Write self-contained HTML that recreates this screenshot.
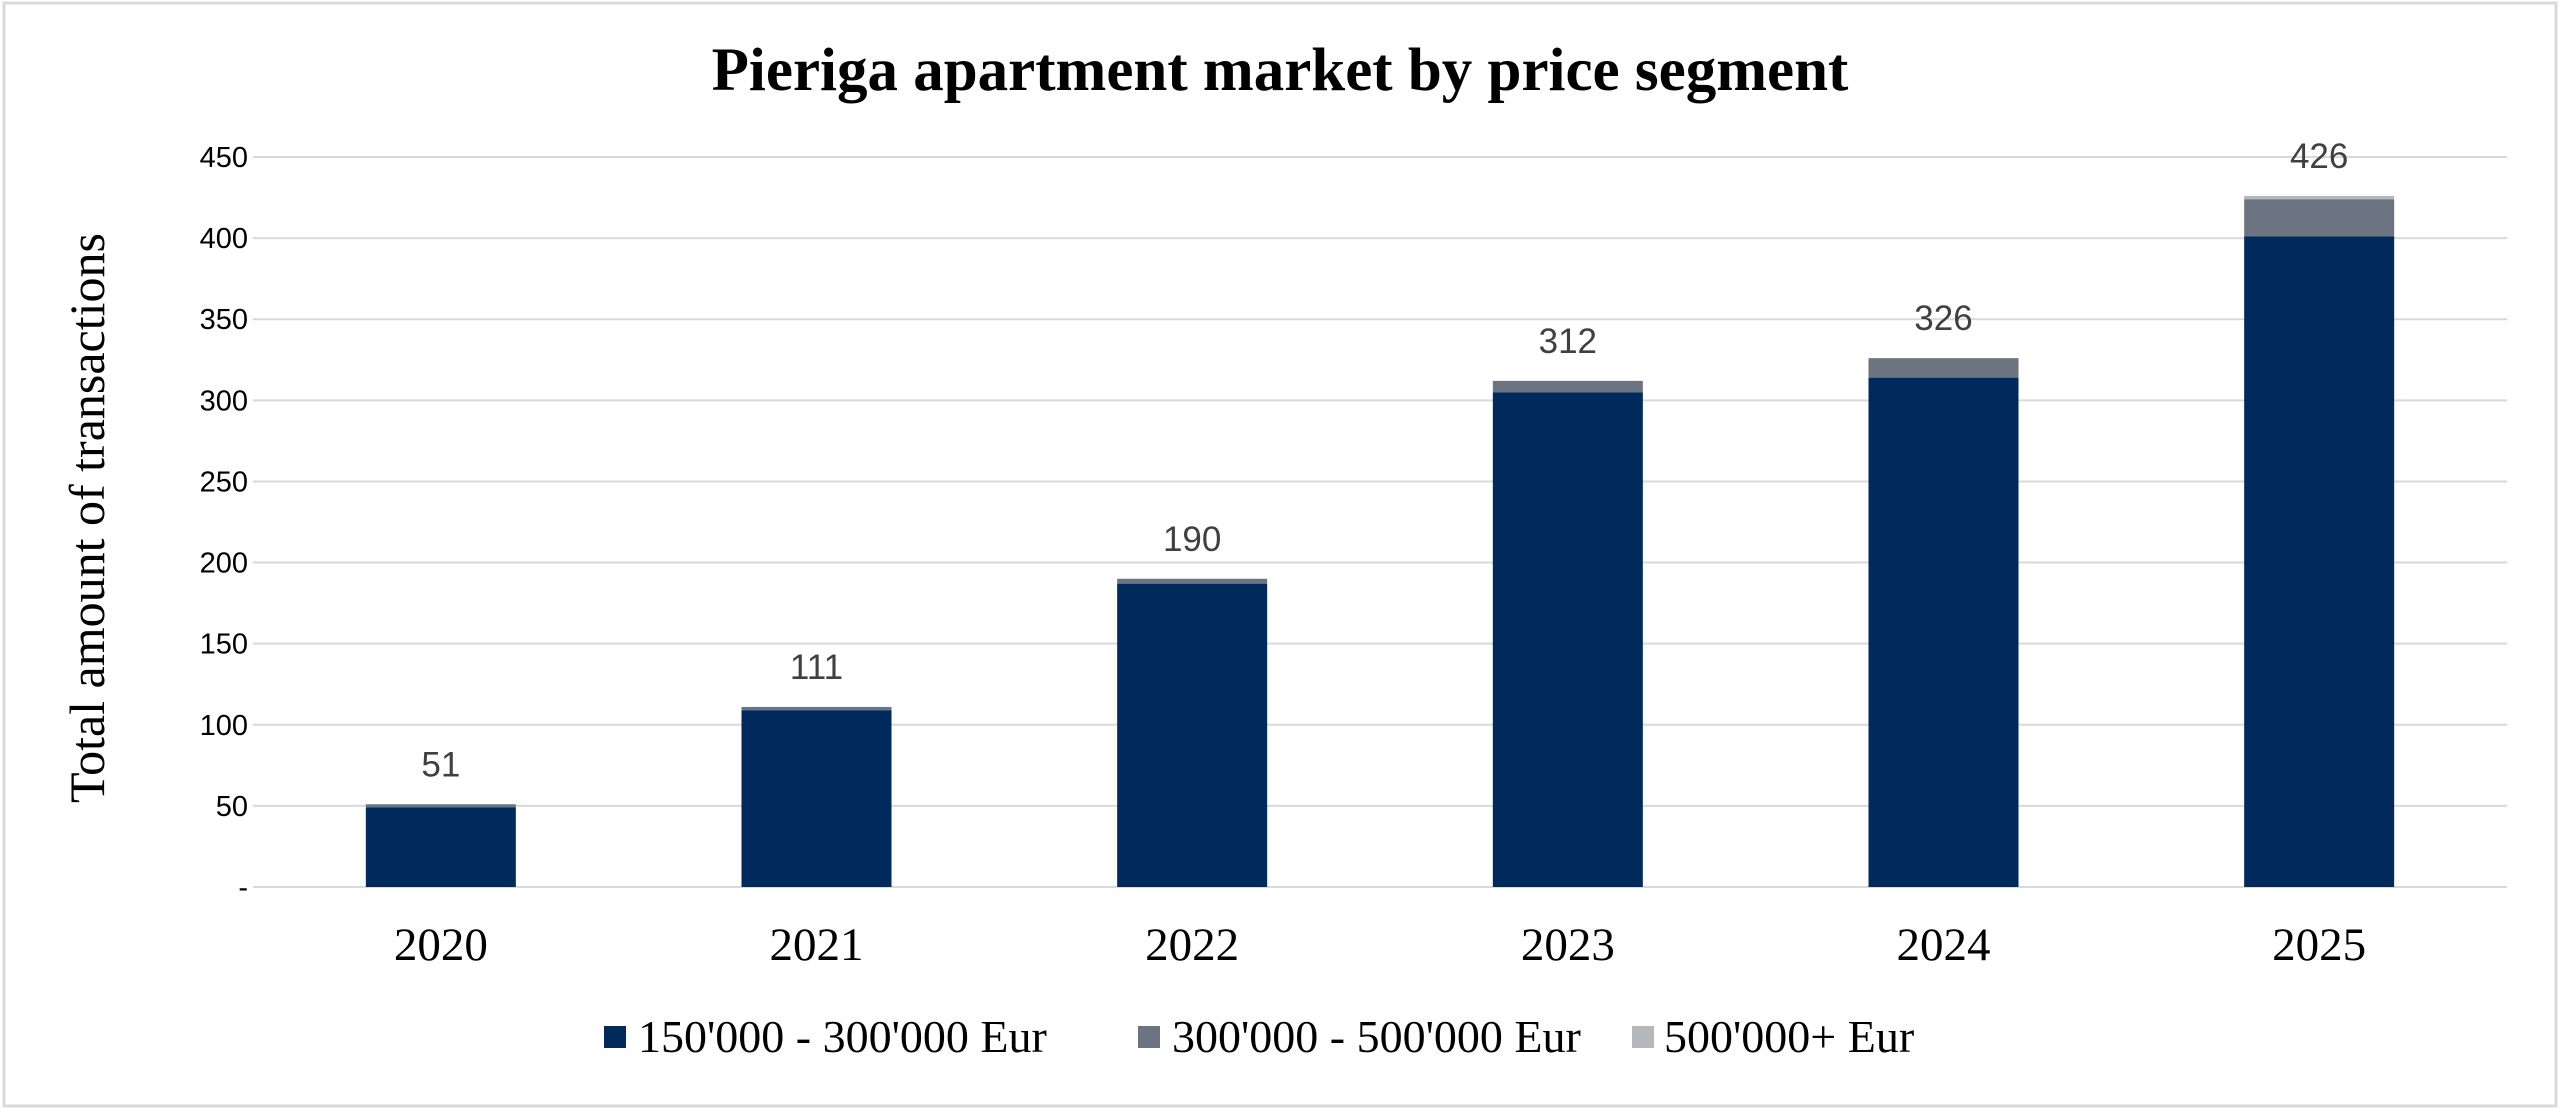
<!DOCTYPE html>
<html><head><meta charset="utf-8"><style>
html,body{margin:0;padding:0;background:#fff;}
svg{display:block;}
</style></head><body>
<svg id="chart" width="2560" height="1109" xmlns="http://www.w3.org/2000/svg">
<rect x="4" y="3" width="2552" height="1103" fill="#fff" stroke="#d9d9d9" stroke-width="3"/>
<text x="1280" y="90" text-anchor="middle" font-family="Liberation Serif, serif" font-weight="bold" font-size="61">Pieriga apartment market by price segment</text>
<text transform="translate(104,518) rotate(-90)" text-anchor="middle" font-family="Liberation Serif, serif" font-size="50">Total amount of transactions</text>
<g id="grid"></g><g id="bars"></g><g id="labels"></g>
<g font-family="Liberation Serif, serif" font-size="46">
<rect x="604" y="1026" width="22" height="22" fill="#002A5C"/>
<text x="638" y="1052">150'000 - 300'000 Eur</text>
<rect x="1138" y="1026" width="22" height="22" fill="#6B7480"/>
<text x="1172" y="1052">300'000 - 500'000 Eur</text>
<rect x="1632" y="1026" width="22" height="22" fill="#B4B7BB"/>
<text x="1664" y="1052">500'000+ Eur</text>
</g>
</svg>
<script>
const categories = ["2020","2021","2022","2023","2024","2025"];
const seriesLow = [49,109,187,305,314,401];
const seriesMid = [2,2,3,7,12,23];
const seriesHigh = [0,0,0,0,0,2];
const yTicks = [0,50,100,150,200,250,300,350,400,450];
const yTickLabels = ["-","50","100","150","200","250","300","350","400","450"];

const NS="http://www.w3.org/2000/svg";
const plotL=253, plotR=2507, plotT=157, plotB=887, yMax=450;
const y=v=>plotB-(v/yMax)*(plotB-plotT);
const band=(plotR-plotL)/categories.length;
const xc=i=>plotL+band*(i+0.5);
const barW=150;
function mk(tag,attrs,parent){const e=document.createElementNS(NS,tag);for(const k in attrs)e.setAttribute(k,attrs[k]);parent.appendChild(e);return e;}
const grid=document.getElementById('grid'),bars=document.getElementById('bars'),labels=document.getElementById('labels');
yTicks.forEach((t,i)=>{
  const l=mk('line',{x1:plotL,x2:plotR,y1:y(t),y2:y(t),stroke:'#d9d9d9','stroke-width':2},grid);
  
  
  const tx=mk('text',{x:248,y:y(t)+10,'text-anchor':'end','font-family':'Liberation Sans, sans-serif','font-size':29,fill:'#000'},grid);
  tx.textContent=yTickLabels[i];
  
  
});
const series=[[seriesLow,'#002A5C','low'],[seriesMid,'#6B7480','mid'],[seriesHigh,'#B4B7BB','high']];
categories.forEach((c,i)=>{
  let base=0;
  series.forEach(([arr,col,nm])=>{
    const v=arr[i];
    if(v>0){
      const r=mk('rect',{x:xc(i)-barW/2,y:y(base+v),width:barW,height:y(base)-y(base+v),fill:col},bars);
      
      
    }
    base+=v;
  });
  const dl=mk('text',{x:xc(i),y:y(base)-28,'text-anchor':'middle','font-family':'Liberation Sans, sans-serif','font-size':35,fill:'#404040'},labels);
  dl.textContent=String(base);
  
  
  const xl=mk('text',{x:xc(i),y:960,'text-anchor':'middle','font-family':'Liberation Serif, serif','font-size':47,fill:'#000'},labels);
  xl.textContent=c;
  
  
});
</script>
</body></html>
